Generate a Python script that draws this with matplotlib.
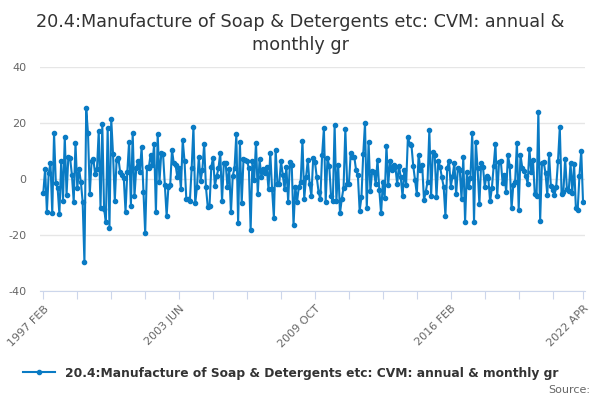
import matplotlib.pyplot as plt
from matplotlib.lines import Line2D
import pandas as pd

TITLE = "20.4:Manufacture of Soap & Detergents etc: CVM: annual & monthly gr"
LINE_COLOR = "#0a7bc4"

# monthly values, 1997 FEB .. 2022 APR
vals_1997_2002 = [
    -4.9, 3.6, -11.7, 2, 5.8, -12.3, 16.3, -1.5, -3.3, -12.6, 6.5, -7.7, 15.1, -5.7,
    7.9, 7.4, 1.4, -8.1, 12.9, -3.1, 3.4, -1, -8.1, -29.8, 25.2, 16.3, -5.2, 6.4, 7,
    1.7, 3.4, 17.1, -10.2, 19.5, -10.8, -15.2, 18.3, -17.4, 21.4, 8.9, -7.8, 6.8, 7.4,
    2.4, 1.4, 0.5, -11.7, 2.6, 13.3, -9.5, 16.5, -6.1, 3.8, 6.4, 2.6, 11.3, -4.5,
    -19.4, 4.4, 4, 8.6, 5, 12.4, -11.7, 16, -0.9, 9.2, 8.8, -2.1, -13.2, -2.7,
]
vals_2003_2008 = [
    -2.1, 10.4, 5.6, 5, 0.6, 4, -3.6, 13.9, 6.5, -7.1, -7.2, -7.8, 3.8, 18.7, -8.7,
    -2.7, 7.9, -0.6, 3.2, 12.5, -3, -9.9, -9.5, 4.4, 7.6, -2.5, 1, 3.8, 9.4, -7.8,
    5.6, 5.8, -2.7, 3.6, -11.9, 1.1, 4, 16, -15.8, 13.1, -8.7, 7, 6.8, 6.5, 3.8,
    -18.2, 6.5, -0.4, 13, -5.4, 7.1, 0.8, 3.6, 2, 4.4, -3.7, 9.4, -3.6, -13.8, 10.4,
    -1.8, -1.8, 6.4, 1.4, -3.6, 4.4, -8.1, 6.1, 5, -16.6, -2.7, -8.1,
]
vals_2009_2015 = [
    -2.7, -1, 13.7, -7.1, 0.6, 6.8, -1.8, -6.1, 7.4, 6.1, 0.6, -4.5, -7.2, 8.6, 18.1,
    -8.1, 7.4, 4.6, -6.2, -7.8, 19.3, -7.7, 5, -12.3, -7.1, -3.1, 17.9, -1.8, -1.8,
    9.2, 7.9, 7.9, 3.2, 1.4, -11.3, -6.6, 8.8, 19.9, -10.5, 13.3, -4.3, 2.8, 2.6,
    -1.8, 6.8, -3.9, -12.3, -1, -6.7, 11.9, -2.1, 6.5, 3.2, 5, 4.4, -1.8, 4.8, 0.6,
    -6.2, 3.2, -2.1, 14.9, 12.6, 12, 4.6, -0.4, -5.4, 8.6, 3.2, 5, -7.5, -4.5, -1, 17.6,
]
vals_2015_2022 = [
    -6, 9.8, 8.6, -6.4, 6.4, 4.4, 0.6, -2.7, -13.2, 3.8, 6.5, -2.7, 1, 5.8, -5.4, 4,
    3.3, -7, 7.7, -15.2, 2.5, -3, 0.5, 16.5, -15.2, 13.3, 3.8, -9, 5.6, 4.4, -2.7,
    1.2, 0.4, -8, -3.2, 4.6, 12.6, -6.2, 6.1, 6.4, -1.4, 1.5, -4.6, 8.6, 4.6, -10.5,
    -2, -1, 13, -10.9, 8.6, 4, 3, 1.2, -1.7, 10.6, 2.5, 6.8, -5.4, -6.2, 24, -15,
    5.6, 6.1, 2, -5.7, 8.8, -2.5, -3.9, -5.7, -2.7, 6.5, 18.5, -5.4, -4.6, 7.3, -3.7,
    -4.2, 5.6, -5.1, 5.3, -10.5, -11, 1.2, 10.1, -8.3,
]
values = vals_1997_2002 + vals_2003_2008 + vals_2009_2015 + vals_2015_2022

months = pd.period_range("1997-02", "2022-04", freq="M")
month_labels = [p.strftime("%Y %b").upper() for p in months]
labelled = ["1997 FEB", "2003 JUN", "2009 OCT", "2016 FEB", "2022 APR"]
y_ticks = [-40, -20, 0, 20, 40]

x = list(range(len(values)))

fig = plt.figure(figsize=(6, 4), dpi=100)
ax = fig.add_axes([0.0667, 0.2725, 0.908, 0.56])
ax.plot(x, values, color=LINE_COLOR, linewidth=1.5, marker="o", markersize=3)

ax.set_xlim(-1.85, len(values))
ax.set_ylim(-40, 40)
ax.set_yticks(y_ticks)
ax.set_yticklabels([str(v) for v in y_ticks])
ax.grid(axis="y", color="#e6e6e6", linewidth=1)
ax.set_axisbelow(True)

tick_pos = list(range(0, len(values) - 10, 19)) + [len(values) - 1]
ax.set_xticks(tick_pos)
ax.set_xticklabels([month_labels[i] if month_labels[i] in labelled else "" for i in tick_pos],
                   rotation=45, ha="right", rotation_mode="anchor")

for side in ["top", "right", "left"]:
    ax.spines[side].set_visible(False)
ax.spines["bottom"].set_color("#ccd6eb")
ax.tick_params(axis="x", length=6, color="#ccd6eb", labelsize=8, labelcolor="#666666", pad=3)
ax.tick_params(axis="y", length=0, labelsize=8, labelcolor="#666666", pad=10)

fig.text(0.5, 0.945, "20.4:Manufacture of Soap & Detergents etc: CVM: annual &",
         ha="center", va="center", fontsize=12.7, color="#333333")
fig.text(0.5, 0.888, "monthly gr", ha="center", va="center", fontsize=12.7, color="#333333")

handle = Line2D([], [], color=LINE_COLOR, linewidth=1.5, marker="o", markersize=3)
fig.legend([handle], [TITLE], loc="center", bbox_to_anchor=(0.485, 0.067), frameon=False,
           handlelength=2.6, prop={"size": 8.8, "weight": "bold"}, labelcolor="#333333")
fig.text(0.983, 0.025, "Source:", ha="right", va="center", fontsize=8, color="#666666")

fig.savefig("out.png")
